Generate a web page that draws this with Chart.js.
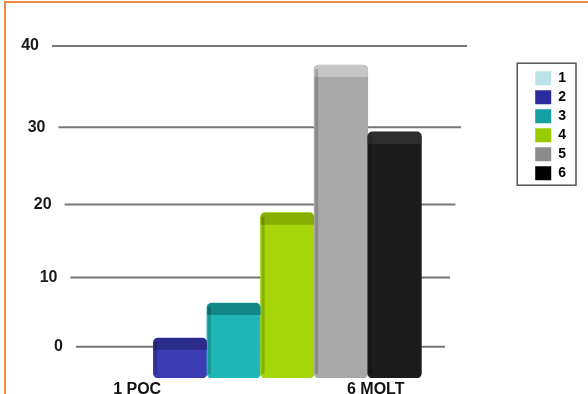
<!DOCTYPE html>
<html>
<head>
<meta charset="utf-8">
<script src="https://cdn.jsdelivr.net/npm/chart.js@4/dist/chart.umd.min.js"></script>
<style>
  html, body { margin: 0; padding: 0; background: #fff; }
  #wrap { position: relative; width: 588px; height: 394px; }
  #frame {
    position: absolute; left: 4px; top: 1px; right: 0; bottom: 0;
    border-top: 2px solid #ee8a45; border-left: 2px solid #ee8a45;
    pointer-events: none;
  }
</style>
</head>
<body>
<div id="wrap">
  <canvas id="bars3d"></canvas>
  <div id="frame"></div>
</div>
<script>
// Series values
const seriesNames = ['1', '2', '3', '4', '5', '6'];
const barValues = [0, 1.3, 6.4, 18.9, 37.7, 29.4];
const floorLabels = ['1 POC', '', '', '', '', '6 MOLT'];
const yTicks = [0, 10, 20, 30, 40];

// Colours
const frontColors = ['#bfe6ea', '#3b3bb4', '#1fb6b8', '#a6d60a', '#a8a8a8', '#1b1b1b'];
const topColors   = ['#a9d6da', '#2c2c8c', '#148688', '#87ae00', '#c6c6c6', '#2e2e2e'];
const legendColors = ['#b9e3e8', '#2b2b9c', '#12a0a2', '#99cc00', '#8c8c8c', '#000000'];

const FONT = "'Liberation Sans', Arial, sans-serif";
const FLOOR = -4.7;      // front edge of the floor, below the zero line
const WARP = 0.12;       // vertical perspective of the back wall

// linear scale with a little perspective stretch towards the top
class PerspectiveScale extends Chart.LinearScale {
  getPixelForDecimal(d) {
    return super.getPixelForDecimal(d * (1 - WARP + WARP * d));
  }
  getDecimalForPixel(p) {
    const w = super.getDecimalForPixel(p);
    const a = 1 - WARP;
    return (-a + Math.sqrt(a * a + 4 * WARP * w)) / (2 * WARP);
  }
}
PerspectiveScale.id = 'perspective';
PerspectiveScale.defaults = Chart.LinearScale.defaults;
Chart.register(PerspectiveScale);

// back wall: slanted grid lines and their labels, floor labels
const wallPlugin = {
  id: 'wall',
  beforeDatasetsDraw(chart) {
    const {ctx, scales: {x, y}} = chart;
    const yTop = y.getPixelForValue(yTicks[yTicks.length - 1]);
    const yBot = y.getPixelForValue(0);
    const edge = (py, a, b) => a + (b - a) * (py - yTop) / (yBot - yTop);

    ctx.save();
    ctx.strokeStyle = '#777';
    ctx.lineWidth = 2;
    ctx.font = 'bold 16px ' + FONT;
    ctx.fillStyle = '#1a1a1a';
    ctx.textAlign = 'right';
    ctx.textBaseline = 'middle';
    yTicks.forEach(v => {
      const py = y.getPixelForValue(v);
      const l = edge(py, 52, 76), r = edge(py, 467, 445);
      ctx.beginPath();
      ctx.moveTo(l, py);
      ctx.lineTo(r, py);
      ctx.stroke();
      ctx.fillText(String(v), l - 13, py);
    });

    // floor labels lean towards the middle of the floor
    const vanish = x.getPixelForValue(2.8);
    ctx.textAlign = 'center';
    ctx.textBaseline = 'top';
    ctx.fillStyle = '#111';
    floorLabels.forEach((t, i) => {
      if (!t) return;
      const px = x.getPixelForValue(i + 1);
      ctx.fillText(t, vanish + (px - vanish) * 0.89, y.bottom + 4);
    });
    ctx.restore();

    // columns stand on the front edge of the floor
    chart.getDatasetMeta(0).data.forEach((el, i) => {
      el.base = barValues[i] > 0 ? y.bottom : el.y;
    });
  },
  afterDatasetsDraw(chart) {
    const {ctx} = chart;
    ctx.save();
    chart.getDatasetMeta(0).data.forEach((el, i) => {
      if (!(barValues[i] > 0)) return;
      const left = el.x - el.width / 2;
      const h = Math.min(12, el.base - el.y);
      ctx.fillStyle = topColors[i];
      ctx.beginPath();
      ctx.roundRect(left, el.y, el.width, h, [5, 5, 0, 0]);
      ctx.fill();
      // darker side edge
      ctx.fillStyle = 'rgba(0,0,0,0.18)';
      ctx.fillRect(left + 1, el.y + 4, 3, el.base - el.y - 8);
    });
    ctx.restore();
  },
  afterDraw(chart) {
    const lg = chart.legend;
    if (!lg || !lg.legendHitBoxes || !lg.legendHitBoxes.length) return;
    const hb = lg.legendHitBoxes;
    const first = hb[0], last = hb[hb.length - 1];
    const w = Math.max(...hb.map(b => b.width));
    const {ctx} = chart;
    ctx.save();
    ctx.strokeStyle = '#555';
    ctx.lineWidth = 1.5;
    ctx.strokeRect(first.left - 18, first.top - 8, w + 28, last.top + last.height - first.top + 13);
    ctx.restore();
  }
};

const ctx = document.getElementById('bars3d');

new Chart(ctx, {
  type: 'bar',
  data: {
    labels: seriesNames,
    datasets: [{
      label: 'Series',
      data: barValues.map((v, i) => ({x: i + 1, y: v})),
      // an empty column leaves nothing on the floor
      backgroundColor: c => barValues[c.dataIndex] > 0 ? frontColors[c.dataIndex] : 'rgba(0,0,0,0)',
      borderRadius: 5,
      borderSkipped: false,
      barPercentage: 1,
      categoryPercentage: 1
    }]
  },
  options: {
    responsive: true,
    maintainAspectRatio: false,
    animation: false,
    layout: { padding: { left: 52, top: 46, right: 12, bottom: 16 } },
    scales: {
      x: {
        type: 'linear',
        display: false,
        offset: false,
        min: -0.39,
        max: 8.53,
        ticks: { stepSize: 1, includeBounds: false }
      },
      y: {
        type: 'perspective',
        display: false,
        min: FLOOR,
        max: 40,
        ticks: { stepSize: 10, includeBounds: false }
      }
    },
    plugins: {
      tooltip: { enabled: false },
      legend: {
        position: 'right',
        align: 'start',
        title: { display: true, text: '', font: { size: 1 }, padding: { top: 19, bottom: 0 } },
        labels: {
          boxWidth: 16,
          boxHeight: 14,
          padding: 5,
          color: '#000',
          font: { size: 14, weight: 'bold', family: FONT },
          generateLabels: () => seriesNames.map((t, i) => ({
            text: t,
            fillStyle: legendColors[i],
            strokeStyle: legendColors[i],
            fontColor: '#000',
            lineWidth: 0,
            hidden: false,
            index: i
          }))
        }
      }
    }
  },
  plugins: [wallPlugin]
});
</script>
</body>
</html>
